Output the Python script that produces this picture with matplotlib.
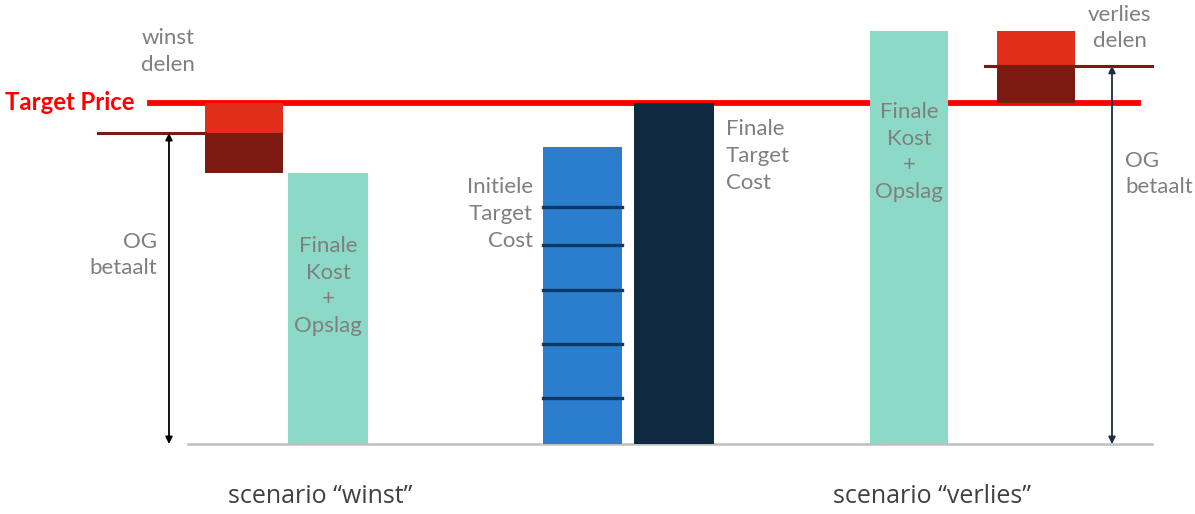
import matplotlib.pyplot as plt
import numpy as np

# values relative to the target price (= 100)
TARGET_PRICE = 100.0

winst_final_cost = 79.5
winst_og_pays = 91.2

initial_target_cost = 87.1
initial_dividers = [69.5, 58.4, 45.2, 29.3, 13.5]
final_target_cost = 100.0

verlies_final_cost = 121.1
verlies_og_pays = 110.9

TEAL = "#8DD9C8"
BLUE = "#2B7DCD"
NAVY = "#0F2940"
RED = "#E02E1B"
DARK_RED = "#7A1A10"
GRAY_TEXT = "#7F7F7F"

W, H, DPI = 1195, 514, 100
BASE_PX = 70          # baseline height above bottom edge, px
UNIT_PX = 3.41        # px per value unit


def main() -> None:
    fig = plt.figure(figsize=[W / DPI, H / DPI], dpi=DPI)
    ax = fig.add_axes([0, 0, 1, 1])
    ax.set_xlim(0, W)
    ax.set_ylim(-BASE_PX / UNIT_PX, (H - BASE_PX) / UNIT_PX)
    ax.axis("off")

    label_font = dict(family="Lato", fontsize=16, color=GRAY_TEXT, linespacing=1.42)

    # baseline
    ax.plot([188, 1152], [0, 0], color="#BFBFBF", lw=1.8, zorder=1)

    # target price line
    ax.plot([150, 1138], [TARGET_PRICE, TARGET_PRICE], color="#FF0000", lw=4.2, zorder=2)
    ax.text(5, TARGET_PRICE, "Target Price", family="Lato", fontweight="bold",
            fontsize=17.2, color="#FF0000", va="center", ha="left")

    # scenario winst
    ax.bar(244, winst_og_pays - winst_final_cost, width=78, bottom=winst_final_cost,
           color=DARK_RED, zorder=3)
    ax.bar(244, TARGET_PRICE - winst_og_pays, width=78, bottom=winst_og_pays,
           color=RED, zorder=3)
    ax.plot([98, 205], [winst_og_pays, winst_og_pays], color=DARK_RED, lw=2.2, zorder=3)
    ax.bar(328, winst_final_cost, width=80, color=TEAL, zorder=2)
    ax.annotate("", xy=(169, 0), xytext=(169, winst_og_pays),
                arrowprops=dict(arrowstyle="<|-|>", color="black", lw=1.3,
                                mutation_scale=10, shrinkA=0, shrinkB=0))
    ax.text(328, 46.3, "Finale\nKost\n+\nOpslag", ha="center", va="center", **label_font)
    ax.text(157, 55.4, "OG\nbetaalt", ha="right", va="center", multialignment="right",
            **label_font)
    ax.text(168, 115.0, "winst\ndelen", ha="center", va="center", **label_font)

    # initial vs final target cost
    ax.bar(582.5, initial_target_cost, width=79, color=BLUE, zorder=2)
    for d in initial_dividers:
        ax.plot([543, 622], [d, d], color="#0B3A66", lw=2.4, zorder=3)
    ax.bar(674, final_target_cost, width=80, color=NAVY, zorder=3)
    ax.text(533, 67.4, "Initiele\nTarget\nCost", ha="right", va="center", **label_font)
    ax.text(726, 84.5, "Finale\nTarget\nCost", ha="left", va="center", **label_font)

    # scenario verlies
    ax.bar(909, verlies_final_cost, width=78, color=TEAL, zorder=3)
    ax.text(909, 85.6, "Finale\nKost\n+\nOpslag", ha="center", va="center", **label_font)
    ax.bar(1036, verlies_og_pays - TARGET_PRICE, width=78, bottom=TARGET_PRICE,
           color=DARK_RED, zorder=3)
    ax.bar(1036, verlies_final_cost - verlies_og_pays, width=78, bottom=verlies_og_pays,
           color=RED, zorder=3)
    ax.plot([985, 1152], [verlies_og_pays, verlies_og_pays], color=DARK_RED, lw=2.2, zorder=4)
    ax.annotate("", xy=(1112, 0), xytext=(1112, verlies_og_pays),
                arrowprops=dict(arrowstyle="<|-|>", color="#1F2D44", lw=1.3,
                                mutation_scale=10, shrinkA=0, shrinkB=0))
    ax.text(1125, 79.2, "OG\nbetaalt", ha="left", va="center", **label_font)
    ax.text(1120, 122.0, "verlies\ndelen", ha="center", va="center", **label_font)

    # scenario titles
    ax.text(320, -15.5, "scenario \u201cwinst\u201d", family="Open Sans", fontsize=18,
            color="#404040", ha="center", va="center")
    ax.text(932, -15.5, "scenario \u201cverlies\u201d", family="Open Sans", fontsize=18,
            color="#404040", ha="center", va="center")

    fig.savefig("out.png", dpi=DPI)


if __name__ == '__main__':
    main()
